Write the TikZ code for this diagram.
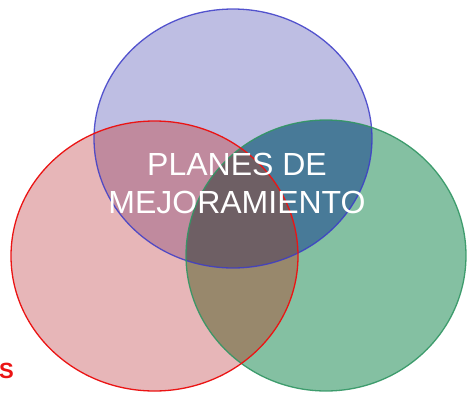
\documentclass[tikz,border=0pt]{standalone}
\usepackage{fontspec}
\setmainfont{Liberation Sans}
\definecolor{bOnly}{RGB}{190,190,227}
\definecolor{rOnly}{RGB}{231,182,184}
\definecolor{gOnly}{RGB}{132,192,162}
\definecolor{bR}{RGB}{192,138,158}
\definecolor{bG}{RGB}{72,122,152}
\definecolor{rG}{RGB}{152,136,108}
\definecolor{bRG}{RGB}{110,95,100}
\definecolor{bLine}{RGB}{60,60,200}
\definecolor{rLine}{RGB}{235,20,20}
\definecolor{gLine}{RGB}{50,150,100}
\begin{document}
\begin{tikzpicture}[x=1pt,y=-1pt,
  ring/.style={line width=1.3pt},
  title/.style={text=white,font=\fontsize{32}{38}\selectfont,align=center,inner sep=0pt}]
\useasboundingbox (0,0) rectangle (467,392);
\def\Bc{(233,138.5) ellipse [x radius=139, y radius=129.5]}
\def\Rc{(154.5,256) ellipse [x radius=143.5, y radius=135]}
\def\Gc{(326,255.5) ellipse [x radius=140, y radius=135.5]}
% single fills
\fill[bOnly] \Bc;
\fill[rOnly] \Rc;
\fill[gOnly] \Gc;
% pairwise
\begin{scope}\clip \Bc; \fill[bR] \Rc; \fill[bG] \Gc; \end{scope}
\begin{scope}\clip \Rc; \fill[rG] \Gc; \end{scope}
\begin{scope}\clip \Bc; \clip \Rc; \fill[bRG] \Gc; \end{scope}
% outlines
\draw[ring,bLine,opacity=0.85] \Bc;
\draw[ring,gLine,opacity=0.9] \Gc;
\draw[ring,rLine] \Rc;
% text
\node[title] (t) at (237,183) {PLANES DE\\MEJORAMIENTO};
\node[anchor=base west,inner sep=0pt,text=rLine,font=\fontsize{22}{26}\selectfont\bfseries] (s) at (-1,378) {S};
\end{tikzpicture}
\end{document}
